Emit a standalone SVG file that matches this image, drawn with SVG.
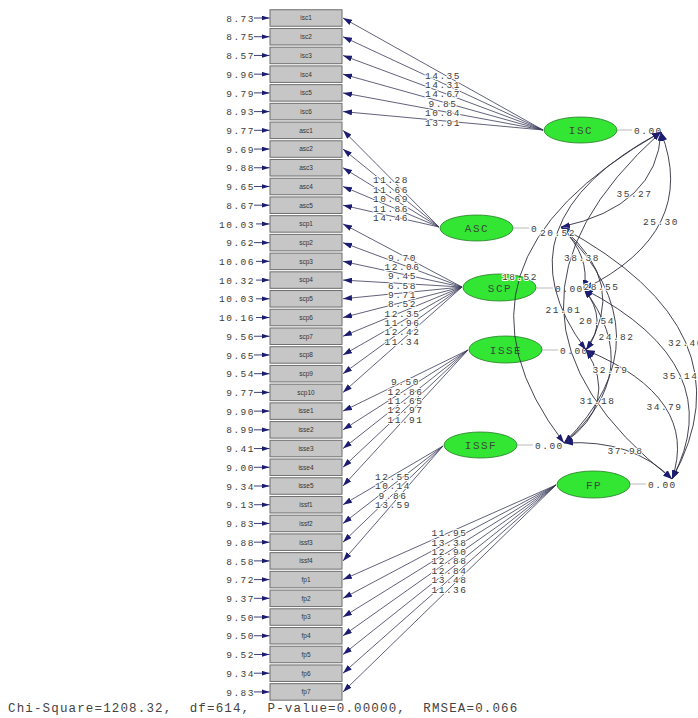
<svg xmlns="http://www.w3.org/2000/svg" width="698" height="718" viewBox="0 0 698 718">
<style>
.box rect{fill:#c6c6c6;stroke:#6e6e6e;stroke-width:1}
.bl{font-family:"Liberation Sans",Arial,sans-serif;font-size:6.5px;fill:#333;text-anchor:middle}
.num{font-family:"Liberation Mono","Courier New",monospace;font-size:9.5px;letter-spacing:1.5px;fill:#3c3c3c}
.lbl{text-anchor:middle;stroke:#fff;stroke-width:2;paint-order:stroke;stroke-linejoin:round}
.err{text-anchor:end}
.ld{stroke:#3a3a5a;stroke-width:0.8;fill:none;marker-end:url(#ah)}
.ea{stroke:#2a2a6a;stroke-width:0.9;fill:none;marker-end:url(#eh)}
.cv{stroke:#2f2f3f;stroke-width:0.9;fill:none;marker-start:url(#ch);marker-end:url(#ch)}
.ell{fill:#33e633;stroke:#247a24;stroke-width:0.8}
.en{font-family:"Liberation Mono","Courier New",monospace;font-size:11px;letter-spacing:1.5px;fill:#3a4a3a;text-anchor:middle}
.tie{stroke:#a8a8a8;stroke-width:0.8}
.foot{font-family:"Liberation Mono","Courier New",monospace;font-size:12.5px;letter-spacing:1.15px;fill:#444;white-space:pre}
</style>
<defs>
<marker id="ah" markerWidth="9" markerHeight="6" refX="9" refY="3" orient="auto" markerUnits="userSpaceOnUse"><path d="M0,0 L9,3 L0,6 Z" fill="#1c1c70"/></marker>
<marker id="eh" markerWidth="8" markerHeight="5" refX="8" refY="2.5" orient="auto" markerUnits="userSpaceOnUse"><path d="M0,0 L8,2.5 L0,5 Z" fill="#1c1c70"/></marker>
<marker id="ch" markerWidth="9" markerHeight="6" refX="9" refY="3" orient="auto-start-reverse" markerUnits="userSpaceOnUse"><path d="M0,0 L9,3 L0,6 Z" fill="#1c1c70"/></marker>
</defs>
<rect width="698" height="718" fill="#fff"/>

<g id="observed">
<g id="isc1" class="box"><rect x="270" y="9.75" width="72" height="16.5"/><text class="bl" x="306" y="20.3">isc1</text></g>
<g id="isc2" class="box"><rect x="270" y="28.47" width="72" height="16.5"/><text class="bl" x="306" y="39.0">isc2</text></g>
<g id="isc3" class="box"><rect x="270" y="47.19" width="72" height="16.5"/><text class="bl" x="306" y="57.7">isc3</text></g>
<g id="isc4" class="box"><rect x="270" y="65.91" width="72" height="16.5"/><text class="bl" x="306" y="76.5">isc4</text></g>
<g id="isc5" class="box"><rect x="270" y="84.63" width="72" height="16.5"/><text class="bl" x="306" y="95.2">isc5</text></g>
<g id="isc6" class="box"><rect x="270" y="103.35" width="72" height="16.5"/><text class="bl" x="306" y="113.9">isc6</text></g>
<g id="asc1" class="box"><rect x="270" y="122.07" width="72" height="16.5"/><text class="bl" x="306" y="132.6">asc1</text></g>
<g id="asc2" class="box"><rect x="270" y="140.79" width="72" height="16.5"/><text class="bl" x="306" y="151.3">asc2</text></g>
<g id="asc3" class="box"><rect x="270" y="159.51" width="72" height="16.5"/><text class="bl" x="306" y="170.1">asc3</text></g>
<g id="asc4" class="box"><rect x="270" y="178.23" width="72" height="16.5"/><text class="bl" x="306" y="188.8">asc4</text></g>
<g id="asc5" class="box"><rect x="270" y="196.95" width="72" height="16.5"/><text class="bl" x="306" y="207.5">asc5</text></g>
<g id="scp1" class="box"><rect x="270" y="215.67" width="72" height="16.5"/><text class="bl" x="306" y="226.2">scp1</text></g>
<g id="scp2" class="box"><rect x="270" y="234.39" width="72" height="16.5"/><text class="bl" x="306" y="244.9">scp2</text></g>
<g id="scp3" class="box"><rect x="270" y="253.11" width="72" height="16.5"/><text class="bl" x="306" y="263.7">scp3</text></g>
<g id="scp4" class="box"><rect x="270" y="271.83" width="72" height="16.5"/><text class="bl" x="306" y="282.4">scp4</text></g>
<g id="scp5" class="box"><rect x="270" y="290.55" width="72" height="16.5"/><text class="bl" x="306" y="301.1">scp5</text></g>
<g id="scp6" class="box"><rect x="270" y="309.27" width="72" height="16.5"/><text class="bl" x="306" y="319.8">scp6</text></g>
<g id="scp7" class="box"><rect x="270" y="327.99" width="72" height="16.5"/><text class="bl" x="306" y="338.5">scp7</text></g>
<g id="scp8" class="box"><rect x="270" y="346.71" width="72" height="16.5"/><text class="bl" x="306" y="357.3">scp8</text></g>
<g id="scp9" class="box"><rect x="270" y="365.43" width="72" height="16.5"/><text class="bl" x="306" y="376.0">scp9</text></g>
<g id="scp10" class="box"><rect x="270" y="384.15" width="72" height="16.5"/><text class="bl" x="306" y="394.7">scp10</text></g>
<g id="isse1" class="box"><rect x="270" y="402.87" width="72" height="16.5"/><text class="bl" x="306" y="413.4">isse1</text></g>
<g id="isse2" class="box"><rect x="270" y="421.59" width="72" height="16.5"/><text class="bl" x="306" y="432.1">isse2</text></g>
<g id="isse3" class="box"><rect x="270" y="440.31" width="72" height="16.5"/><text class="bl" x="306" y="450.9">isse3</text></g>
<g id="isse4" class="box"><rect x="270" y="459.03" width="72" height="16.5"/><text class="bl" x="306" y="469.6">isse4</text></g>
<g id="isse5" class="box"><rect x="270" y="477.75" width="72" height="16.5"/><text class="bl" x="306" y="488.3">isse5</text></g>
<g id="issf1" class="box"><rect x="270" y="496.47" width="72" height="16.5"/><text class="bl" x="306" y="507.0">issf1</text></g>
<g id="issf2" class="box"><rect x="270" y="515.19" width="72" height="16.5"/><text class="bl" x="306" y="525.7">issf2</text></g>
<g id="issf3" class="box"><rect x="270" y="533.91" width="72" height="16.5"/><text class="bl" x="306" y="544.5">issf3</text></g>
<g id="issf4" class="box"><rect x="270" y="552.63" width="72" height="16.5"/><text class="bl" x="306" y="563.2">issf4</text></g>
<g id="fp1" class="box"><rect x="270" y="571.35" width="72" height="16.5"/><text class="bl" x="306" y="581.9">fp1</text></g>
<g id="fp2" class="box"><rect x="270" y="590.07" width="72" height="16.5"/><text class="bl" x="306" y="600.6">fp2</text></g>
<g id="fp3" class="box"><rect x="270" y="608.79" width="72" height="16.5"/><text class="bl" x="306" y="619.3">fp3</text></g>
<g id="fp4" class="box"><rect x="270" y="627.51" width="72" height="16.5"/><text class="bl" x="306" y="638.1">fp4</text></g>
<g id="fp5" class="box"><rect x="270" y="646.23" width="72" height="16.5"/><text class="bl" x="306" y="656.8">fp5</text></g>
<g id="fp6" class="box"><rect x="270" y="664.95" width="72" height="16.5"/><text class="bl" x="306" y="675.5">fp6</text></g>
<g id="fp7" class="box"><rect x="270" y="683.67" width="72" height="16.5"/><text class="bl" x="306" y="694.2">fp7</text></g>
</g>

<g id="error-values" class="num err">
<text x="255" y="21.6">8.73</text><text x="255" y="40.3">8.75</text><text x="255" y="59.0">8.57</text><text x="255" y="77.8">9.96</text><text x="255" y="96.5">9.79</text><text x="255" y="115.2">8.93</text>
<text x="255" y="133.9">9.77</text><text x="255" y="152.6">9.69</text><text x="255" y="171.4">9.88</text><text x="255" y="190.1">9.65</text><text x="255" y="208.8">8.67</text>
<text x="255" y="227.5">10.03</text><text x="255" y="246.2">9.62</text><text x="255" y="265.0">10.06</text><text x="255" y="283.7">10.32</text><text x="255" y="302.4">10.03</text><text x="255" y="321.1">10.16</text><text x="255" y="339.8">9.56</text><text x="255" y="358.6">9.65</text><text x="255" y="377.3">9.54</text><text x="255" y="396.0">9.77</text>
<text x="255" y="414.7">9.90</text><text x="255" y="433.4">8.99</text><text x="255" y="452.2">9.41</text><text x="255" y="470.9">9.00</text><text x="255" y="489.6">9.34</text>
<text x="255" y="508.3">9.13</text><text x="255" y="527.0">9.83</text><text x="255" y="545.8">9.88</text><text x="255" y="564.5">8.58</text>
<text x="255" y="583.2">9.72</text><text x="255" y="601.9">9.37</text><text x="255" y="620.6">9.50</text><text x="255" y="639.4">9.50</text><text x="255" y="658.1">9.52</text><text x="255" y="676.8">9.34</text><text x="255" y="695.5">9.83</text>
</g>

<g id="ISC"><ellipse class="ell" cx="580.5" cy="130" rx="36.5" ry="13"/><text class="en" x="581" y="134">ISC</text></g>
<g id="ASC"><ellipse class="ell" cx="476.5" cy="228" rx="36.5" ry="13"/><text class="en" x="477" y="232">ASC</text></g>
<g id="SCP"><ellipse class="ell" cx="499.5" cy="287.5" rx="36.5" ry="13.5"/><text class="en" x="500" y="291.5">SCP</text></g>
<g id="ISSE"><ellipse class="ell" cx="505.5" cy="349.5" rx="36.5" ry="13.5"/><text class="en" x="506" y="353.5">ISSE</text></g>
<g id="ISSF"><ellipse class="ell" cx="480.5" cy="445" rx="36.5" ry="13"/><text class="en" x="481" y="449">ISSF</text></g>
<g id="FP"><ellipse class="ell" cx="593.5" cy="484.5" rx="36.5" ry="13.5"/><text class="en" x="594" y="488.5">FP</text></g>

<g id="variances">
<line class="tie" x1="617" y1="130" x2="632" y2="130"/><text class="num" x="634" y="134">0.00</text>
<line class="tie" x1="513" y1="228" x2="529" y2="228"/><text class="num" x="531" y="232">0.00</text>
<line class="tie" x1="536" y1="288" x2="553" y2="288"/><text class="num" x="555" y="292">0.00</text>
<line class="tie" x1="542" y1="350" x2="558" y2="350"/><text class="num" x="560" y="354">0.00</text>
<line class="tie" x1="517" y1="445" x2="533" y2="445"/><text class="num" x="535" y="449">0.00</text>
<line class="tie" x1="630" y1="484" x2="646" y2="484"/><text class="num" x="648" y="488">0.00</text>
<rect x="539" y="225" width="37" height="12" fill="#fff"/>
</g>

<g id="connectors">
<g id="error-arrows">
<line class="ea" x1="254" y1="18" x2="269.5" y2="18"/><line class="ea" x1="254" y1="36.72" x2="269.5" y2="36.72"/><line class="ea" x1="254" y1="55.44" x2="269.5" y2="55.44"/><line class="ea" x1="254" y1="74.16" x2="269.5" y2="74.16"/><line class="ea" x1="254" y1="92.88" x2="269.5" y2="92.88"/><line class="ea" x1="254" y1="111.6" x2="269.5" y2="111.6"/>
<line class="ea" x1="254" y1="130.32" x2="269.5" y2="130.32"/><line class="ea" x1="254" y1="149.04" x2="269.5" y2="149.04"/><line class="ea" x1="254" y1="167.76" x2="269.5" y2="167.76"/><line class="ea" x1="254" y1="186.48" x2="269.5" y2="186.48"/><line class="ea" x1="254" y1="205.2" x2="269.5" y2="205.2"/>
<line class="ea" x1="256" y1="223.92" x2="269.5" y2="223.92"/><line class="ea" x1="254" y1="242.64" x2="269.5" y2="242.64"/><line class="ea" x1="256" y1="261.36" x2="269.5" y2="261.36"/><line class="ea" x1="256" y1="280.08" x2="269.5" y2="280.08"/><line class="ea" x1="256" y1="298.8" x2="269.5" y2="298.8"/><line class="ea" x1="256" y1="317.52" x2="269.5" y2="317.52"/><line class="ea" x1="254" y1="336.24" x2="269.5" y2="336.24"/><line class="ea" x1="254" y1="354.96" x2="269.5" y2="354.96"/><line class="ea" x1="254" y1="373.68" x2="269.5" y2="373.68"/><line class="ea" x1="254" y1="392.4" x2="269.5" y2="392.4"/>
<line class="ea" x1="254" y1="411.12" x2="269.5" y2="411.12"/><line class="ea" x1="254" y1="429.84" x2="269.5" y2="429.84"/><line class="ea" x1="254" y1="448.56" x2="269.5" y2="448.56"/><line class="ea" x1="254" y1="467.28" x2="269.5" y2="467.28"/><line class="ea" x1="254" y1="486" x2="269.5" y2="486"/>
<line class="ea" x1="254" y1="504.72" x2="269.5" y2="504.72"/><line class="ea" x1="254" y1="523.44" x2="269.5" y2="523.44"/><line class="ea" x1="254" y1="542.16" x2="269.5" y2="542.16"/><line class="ea" x1="254" y1="560.88" x2="269.5" y2="560.88"/>
<line class="ea" x1="254" y1="579.6" x2="269.5" y2="579.6"/><line class="ea" x1="254" y1="598.32" x2="269.5" y2="598.32"/><line class="ea" x1="254" y1="617.04" x2="269.5" y2="617.04"/><line class="ea" x1="254" y1="635.76" x2="269.5" y2="635.76"/><line class="ea" x1="254" y1="654.48" x2="269.5" y2="654.48"/><line class="ea" x1="254" y1="673.2" x2="269.5" y2="673.2"/><line class="ea" x1="254" y1="691.92" x2="269.5" y2="691.92"/>
</g>
<g id="loadings">
<line class="ld" x1="543" y1="130" x2="343" y2="18"/><line class="ld" x1="543" y1="130" x2="343" y2="36.72"/><line class="ld" x1="543" y1="130" x2="343" y2="55.44"/><line class="ld" x1="543" y1="130" x2="343" y2="74.16"/><line class="ld" x1="543" y1="130" x2="343" y2="92.88"/><line class="ld" x1="543" y1="130" x2="343" y2="111.6"/>
<line class="ld" x1="439" y1="227" x2="343" y2="130.32"/><line class="ld" x1="439" y1="227" x2="343" y2="149.04"/><line class="ld" x1="439" y1="227" x2="343" y2="167.76"/><line class="ld" x1="439" y1="227" x2="343" y2="186.48"/><line class="ld" x1="439" y1="227" x2="343" y2="205.2"/>
<line class="ld" x1="462" y1="287" x2="343" y2="223.92"/><line class="ld" x1="462" y1="287" x2="343" y2="242.64"/><line class="ld" x1="462" y1="287" x2="343" y2="261.36"/><line class="ld" x1="462" y1="287" x2="343" y2="280.08"/><line class="ld" x1="462" y1="287" x2="343" y2="298.8"/><line class="ld" x1="462" y1="287" x2="343" y2="317.52"/><line class="ld" x1="462" y1="287" x2="343" y2="336.24"/><line class="ld" x1="462" y1="287" x2="343" y2="354.96"/><line class="ld" x1="462" y1="287" x2="343" y2="373.68"/><line class="ld" x1="462" y1="287" x2="343" y2="392.4"/>
<line class="ld" x1="468" y1="350" x2="343" y2="411.12"/><line class="ld" x1="468" y1="350" x2="343" y2="429.84"/><line class="ld" x1="468" y1="350" x2="343" y2="448.56"/><line class="ld" x1="468" y1="350" x2="343" y2="467.28"/><line class="ld" x1="468" y1="350" x2="343" y2="486"/>
<line class="ld" x1="443" y1="446" x2="343" y2="504.72"/><line class="ld" x1="443" y1="446" x2="343" y2="523.44"/><line class="ld" x1="443" y1="446" x2="343" y2="542.16"/><line class="ld" x1="443" y1="446" x2="343" y2="560.88"/>
<line class="ld" x1="556" y1="485" x2="343" y2="579.6"/><line class="ld" x1="556" y1="485" x2="343" y2="598.32"/><line class="ld" x1="556" y1="485" x2="343" y2="617.04"/><line class="ld" x1="556" y1="485" x2="343" y2="635.76"/><line class="ld" x1="556" y1="485" x2="343" y2="654.48"/><line class="ld" x1="556" y1="485" x2="343" y2="673.2"/><line class="ld" x1="556" y1="485" x2="343" y2="691.92"/>
</g>
<g id="covariances">
<path class="cv" d="M661,132 Q657,206.5 561,227"/>
<path class="cv" d="M661,132 Q699.5,231.5 584,289"/>
<path class="cv" d="M661,132 Q491.5,223 586,350"/>
<path class="cv" d="M661,132 Q427.5,264.5 564,443"/>
<path class="cv" d="M661,132 Q460.5,312.5 672,479"/>
<path class="cv" d="M561,227 Q590.5,256 584,289"/>
<path class="cv" d="M561,227 Q629.5,283.5 586,350"/>
<path class="cv" d="M561,227 Q670.5,337 564,443"/>
<path class="cv" d="M561,227 Q754.5,331 672,479"/>
<path class="cv" d="M584,289 Q609,320.5 586,350"/>
<path class="cv" d="M584,289 Q647,372 564,443"/>
<path class="cv" d="M584,289 Q732,366 672,479"/>
<path class="cv" d="M586,350 Q620,403.5 564,443"/>
<path class="cv" d="M586,350 Q700,397.5 672,479"/>
<path class="cv" d="M564,443 Q633,439 672,479"/>
</g>
</g>

<g id="loading-labels" class="num lbl">
<text x="443" y="78.5">14.35</text><text x="443" y="88">14.31</text><text x="443" y="97.4">14.67</text><text x="443" y="106.8">9.85</text><text x="443" y="116.2">10.84</text><text x="443" y="125.6">13.91</text>
<text x="391" y="183.4">11.28</text><text x="391" y="192.8">11.66</text><text x="391" y="202.1">10.69</text><text x="391" y="211.5">11.86</text><text x="391" y="220.9">14.46</text>
<text x="402.5" y="260.5">9.70</text><text x="402.5" y="269.8">12.06</text><text x="402.5" y="279.2">9.45</text><text x="402.5" y="288.5">6.58</text><text x="402.5" y="297.9">9.71</text><text x="402.5" y="307.3">8.52</text><text x="402.5" y="316.6">12.35</text><text x="402.5" y="326">11.96</text><text x="402.5" y="335.3">12.42</text><text x="402.5" y="344.7">11.34</text>
<text x="405.5" y="385.4">9.50</text><text x="405.5" y="394.7">12.86</text><text x="405.5" y="404.1">11.65</text><text x="405.5" y="413.4">12.97</text><text x="405.5" y="422.8">11.91</text>
<text x="393" y="479.9">12.55</text><text x="393" y="489.2">10.14</text><text x="393" y="498.6">9.86</text><text x="393" y="507.9">13.59</text>
<text x="449.5" y="536.3">11.95</text><text x="449.5" y="545.7">13.38</text><text x="449.5" y="555">12.90</text><text x="449.5" y="564.4">12.88</text><text x="449.5" y="573.7">12.84</text><text x="449.5" y="583.1">13.48</text><text x="449.5" y="592.5">11.36</text>
</g>

<g id="covariance-labels" class="num lbl">
<text x="634.5" y="196.5">35.27</text>
<text x="661" y="224.5">25.30</text>
<text x="558" y="235.5">20.52</text>
<text x="520" y="279.5">18.52</text>
<text x="563.5" y="312.5">21.01</text>
<text x="582" y="260.5">38.38</text>
<text x="601.5" y="289.5">28.55</text>
<text x="616.5" y="339.5">24.82</text>
<text x="686" y="345.5">32.40</text>
<text x="597" y="323.5">20.54</text>
<text x="610.5" y="372.5">32.79</text>
<text x="680.5" y="378.5">35.14</text>
<text x="597.5" y="403.5">31.18</text>
<text x="664.5" y="409.5">34.79</text>
<text x="625.5" y="453.5">37.98</text>
</g>

<text class="foot" x="8" y="712" xml:space="preserve">Chi-Square=1208.32,  df=614,  P-value=0.00000,  RMSEA=0.066</text>
</svg>
